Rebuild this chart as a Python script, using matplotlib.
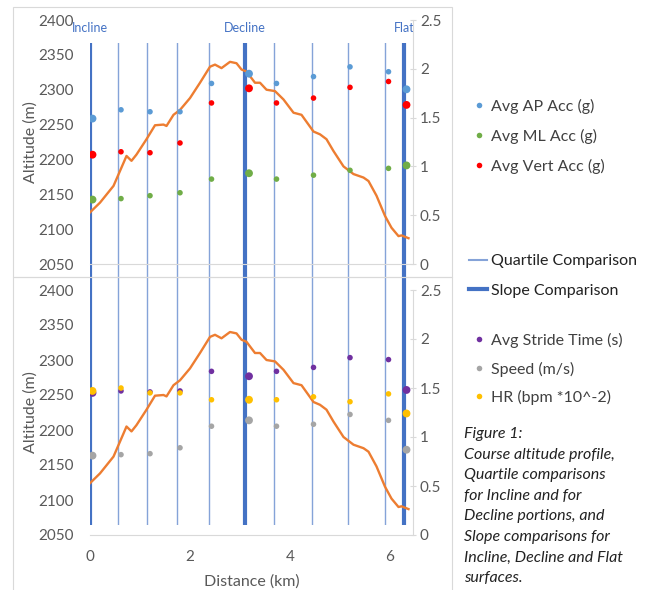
import matplotlib.pyplot as plt
from matplotlib.lines import Line2D
from matplotlib.patches import Rectangle

plt.rcParams['font.family'] = ['Lato', 'DejaVu Sans']

# === data ===
alt_km = [0, 0.2, 0.47, 0.67, 0.73, 0.83, 0.93, 1.13, 1.3, 1.47, 1.53, 1.67, 1.8,
          2.0, 2.2, 2.4, 2.5, 2.63, 2.8, 2.93, 3.03, 3.13, 3.3, 3.4, 3.53, 3.7,
          3.87, 4.07, 4.23, 4.47, 4.6, 4.73, 4.87, 5.07, 5.27, 5.47, 5.57, 5.73,
          5.9, 6.03, 6.17, 6.23, 6.37]
alt_m = [2124, 2138, 2162, 2195, 2205, 2198, 2207, 2229, 2249, 2250, 2248, 2264,
         2271, 2288, 2310, 2333, 2336, 2331, 2340, 2338, 2329, 2326, 2310, 2310,
         2300, 2298, 2286, 2267, 2264, 2240, 2236, 2229, 2212, 2190, 2179, 2174,
         2169, 2148, 2119, 2102, 2090, 2091, 2087]

quartile_km = [0.56, 1.14, 1.74, 2.37, 3.68, 4.44, 5.16, 5.9]
slope_km = [0, 3.1, 6.28]
slope_names = ['Incline', 'Decline', 'Flat']

pt_km = [0.05, 0.62, 1.2, 1.8, 2.43, 3.18, 3.73, 4.47, 5.2, 5.97, 6.33]
is_slope = [True, False, False, False, False, True, False, False, False, False, True]

ap_acc = [1.49, 1.58, 1.56, 1.56, 1.85, 1.95, 1.85, 1.92, 2.02, 1.97, 1.79]
ml_acc = [0.66, 0.67, 0.70, 0.73, 0.87, 0.93, 0.87, 0.91, 0.96, 0.98, 1.01]
vert_acc = [1.12, 1.15, 1.14, 1.24, 1.65, 1.80, 1.65, 1.70, 1.81, 1.87, 1.63]

stride = [1.45, 1.47, 1.46, 1.47, 1.67, 1.62, 1.67, 1.71, 1.81, 1.79, 1.48]
speed = [0.81, 0.82, 0.83, 0.89, 1.11, 1.17, 1.11, 1.13, 1.23, 1.17, 0.87]
hr = [1.47, 1.50, 1.45, 1.45, 1.38, 1.38, 1.38, 1.41, 1.36, 1.44, 1.24]

top_series = [('Avg AP Acc (g)', ap_acc, '#5B9BD5'),
              ('Avg ML Acc (g)', ml_acc, '#70AD47'),
              ('Avg Vert Acc (g)', vert_acc, '#FF0000')]
bot_series = [('Avg Stride Time (s)', stride, '#7030A0'),
              ('Speed (m/s)', speed, '#A5A5A5'),
              ('HR (bpm *10^-2)', hr, '#FFC000')]

caption = ('Figure 1:\nCourse altitude profile,\nQuartile comparisons\n'
           'for Incline and for\nDecline portions, and\nSlope comparisons for\n'
           'Incline, Decline and Flat\nsurfaces.')

GREY = '#595959'
BLUE = '#4472C4'
W, H = 646, 590
XMAX = 6.46


def fx(px):
    return px / W


def fy(py):
    return 1 - py / H


fig = plt.figure(figsize=(W / 100, H / 100), dpi=100)

# light chart borders
for x0, y0, x1, y1 in [(13, 7, 452, 277), (13, 277, 452, 600)]:
    fig.patches.append(Rectangle((fx(x0), fy(y1)), fx(x1 - x0), (y1 - y0) / H,
                                 transform=fig.transFigure, fill=False,
                                 edgecolor='#D9D9D9', linewidth=0.8))

# overlay for comparison lines, spans both panels
ov = fig.add_axes([fx(90), fy(525), fx(413 - 90), (525 - 43) / H])
ov.set_xlim(0, XMAX)
ov.set_ylim(0, 1)
ov.axis('off')
ov.set_zorder(0)
for d in quartile_km:
    ov.axvline(d, color=BLUE, alpha=0.65, linewidth=1)
for d, name in zip(slope_km, slope_names):
    ov.axvline(d, color=BLUE, linewidth=3)
    ov.text(d, 1.031, name, transform=ov.get_xaxis_transform(), ha='center',
            va='center', color=BLUE, fontsize=9, clip_on=False)


def make_panel(top_px, bot_px, series, show_x):
    ax = fig.add_axes([fx(90), fy(bot_px), fx(413 - 90), (bot_px - top_px) / H])
    ax.set_zorder(1)
    ax.patch.set_visible(False)
    ax.plot(alt_km, alt_m, color='#ED7D31', linewidth=1.7, zorder=2)
    ax.set_xlim(0, XMAX)
    ax.set_ylim(2050, 2400)
    ax.set_yticks(range(2050, 2401, 50))
    ax.set_ylabel('Altitude (m)', fontsize=11.5, color=GREY, labelpad=0)
    for s in ['left', 'top', 'right']:
        ax.spines[s].set_visible(False)
    ax.spines['bottom'].set_color('#D9D9D9')
    ax.tick_params(axis='y', length=0, pad=12, labelsize=11, labelcolor=GREY)
    if show_x:
        ax.set_xticks([0, 2, 4, 6])
        ax.tick_params(axis='x', length=0, pad=11, labelsize=11, labelcolor=GREY)
        ax.set_xlabel('Distance (km)', fontsize=11.5, color=GREY, labelpad=7)
    else:
        ax.set_xticks([])

    ax2 = ax.twinx()
    ax2.set_zorder(2)
    ax2.patch.set_visible(False)
    ax2.set_ylim(0, 2.5)
    ax2.set_yticks([0, 0.5, 1, 1.5, 2, 2.5])
    ax2.set_yticklabels(['0', '0.5', '1', '1.5', '2', '2.5'])
    for s in ['left', 'top', 'bottom']:
        ax2.spines[s].set_visible(False)
    ax2.spines['right'].set_color('#D9D9D9')
    ax2.tick_params(axis='y', length=4, direction='inout', color='#D9D9D9',
                    pad=3, labelsize=11, labelcolor=GREY)
    for name, vals, c in series:
        sizes = [32 if big else 16 for big in is_slope]
        ax2.scatter(pt_km, vals, s=sizes, color=c, linewidths=0, zorder=3)
    return ax, ax2


make_panel(20, 264, top_series, False)
make_panel(290, 535, bot_series, True)


def dot_legend(series, top_px, spacing):
    handles = [Line2D([], [], marker='o', linestyle='none', markersize=4,
                      color=c, markeredgewidth=0) for _, _, c in series]
    fig.legend(handles, [n for n, _, _ in series], loc='upper left',
               bbox_to_anchor=(fx(466), fy(top_px)), frameon=False,
               fontsize=11.5, labelcolor='#404040', handlelength=0.6,
               handletextpad=0.45, labelspacing=spacing, borderpad=0)


dot_legend(top_series, 91, 0.92)
dot_legend(bot_series, 325, 0.84)

line_handles = [Line2D([], [], color=BLUE, alpha=0.65, linewidth=1.5),
                Line2D([], [], color=BLUE, linewidth=3)]
fig.legend(line_handles, ['Quartile Comparison', 'Slope Comparison'],
           loc='upper left', bbox_to_anchor=(fx(461), fy(246)), frameon=False,
           fontsize=11.5, labelcolor='#222222', handlelength=1.1,
           handletextpad=0.3, labelspacing=0.95, borderpad=0)

fig.text(fx(464), fy(427), caption, ha='left', va='top', fontsize=11.5,
         style='italic', color='#222222', linespacing=1.6)

fig.savefig('out.png', dpi=100)
